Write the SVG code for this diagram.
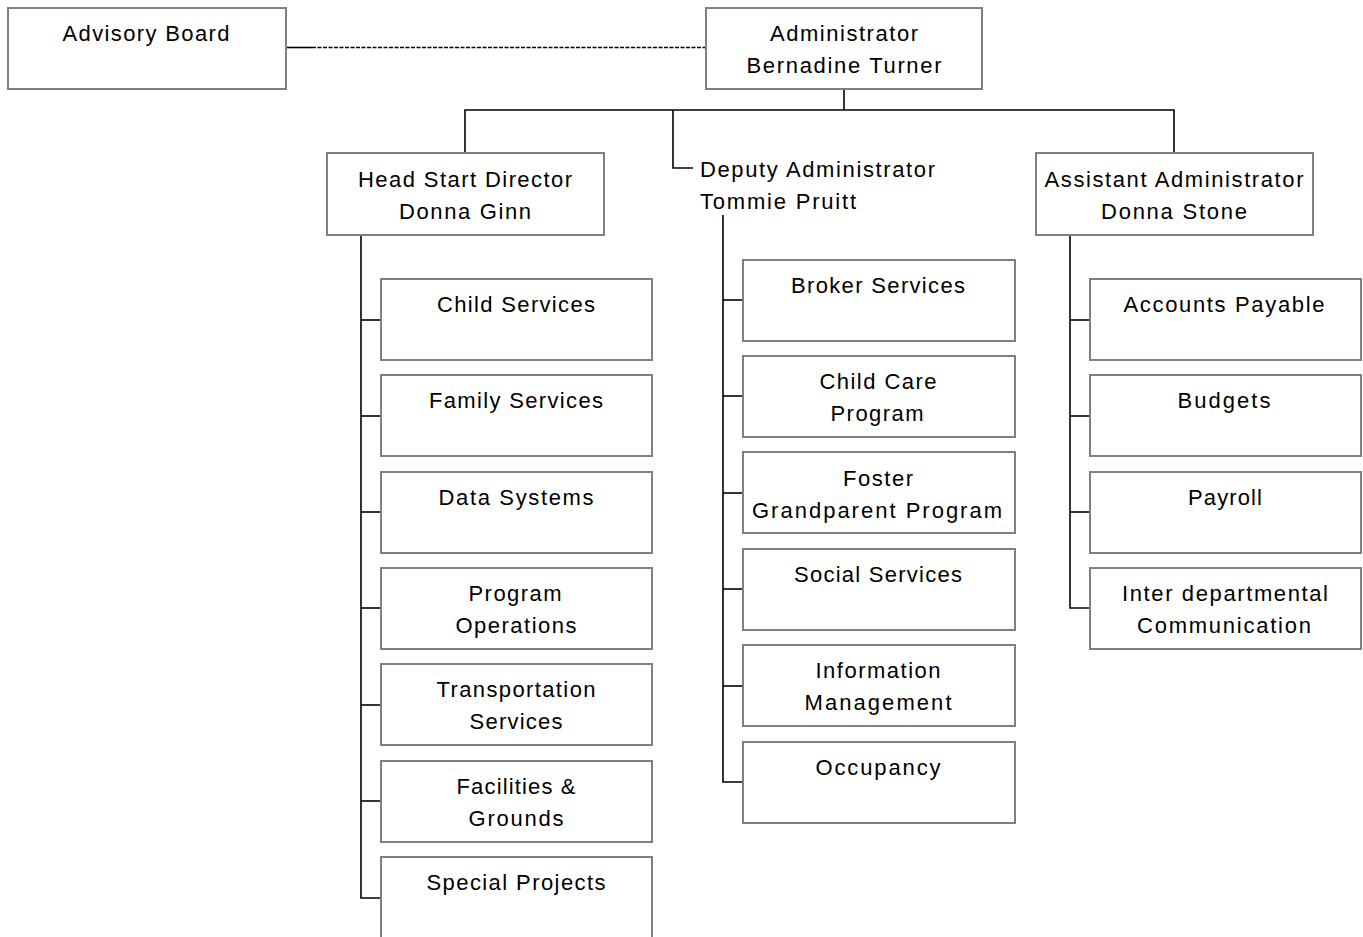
<svg xmlns="http://www.w3.org/2000/svg" width="1363" height="937" viewBox="0 0 1363 937">
<style>
.box{fill:#fff;stroke:#808080;stroke-width:2}
.ln{fill:none;stroke:#000;stroke-width:1.6}
.dash{fill:none;stroke:#000;stroke-width:1.3;stroke-dasharray:4 1.5}
text{font-family:"Liberation Sans Narrow","Liberation Sans",Arial,sans-serif;font-size:22px;fill:#000;text-anchor:middle}
.l{text-anchor:start}
</style>
<rect width="1363" height="937" fill="#fff"/>
<g id="connectors">
<line class="ln" x1="286" y1="47.5" x2="312" y2="47.5"/>
<line class="dash" x1="312" y1="47.5" x2="706" y2="47.5"/>
<polyline class="ln" points="844,89 844,110"/>
<polyline class="ln" points="465,153 465,110 1174,110 1174,153"/>
<polyline class="ln" points="673,110 673,168 693,168"/>
<polyline class="ln" points="361,235 361,898 381,898"/>
<line class="ln" x1="361" y1="320" x2="381" y2="320"/>
<line class="ln" x1="361" y1="416" x2="381" y2="416"/>
<line class="ln" x1="361" y1="512" x2="381" y2="512"/>
<line class="ln" x1="361" y1="608" x2="381" y2="608"/>
<line class="ln" x1="361" y1="705" x2="381" y2="705"/>
<line class="ln" x1="361" y1="801" x2="381" y2="801"/>
<polyline class="ln" points="723,215 723,782 743,782"/>
<line class="ln" x1="723" y1="300" x2="743" y2="300"/>
<line class="ln" x1="723" y1="396" x2="743" y2="396"/>
<line class="ln" x1="723" y1="493" x2="743" y2="493"/>
<line class="ln" x1="723" y1="589" x2="743" y2="589"/>
<line class="ln" x1="723" y1="686" x2="743" y2="686"/>
<polyline class="ln" points="1070,235 1070,608 1090,608"/>
<line class="ln" x1="1070" y1="320" x2="1090" y2="320"/>
<line class="ln" x1="1070" y1="416" x2="1090" y2="416"/>
<line class="ln" x1="1070" y1="512" x2="1090" y2="512"/>
</g>
<g id="advisory"><rect class="box" x="8" y="8" width="278" height="81"/><text x="146" y="41" textLength="167" lengthAdjust="spacing">Advisory Board</text></g>
<g id="administrator"><rect class="box" x="706" y="8" width="276" height="81"/><text x="844" y="41" textLength="148" lengthAdjust="spacing">Administrator</text><text x="844" y="73" textLength="195" lengthAdjust="spacing">Bernadine Turner</text></g>
<g id="headstart"><rect class="box" x="327" y="153" width="277" height="82"/><text x="465" y="187" textLength="214" lengthAdjust="spacing">Head Start Director</text><text x="465" y="219" textLength="132" lengthAdjust="spacing">Donna Ginn</text></g>
<g id="deputy"><text class="l" x="700" y="177" textLength="235" lengthAdjust="spacing">Deputy Administrator</text><text class="l" x="700" y="209" textLength="156" lengthAdjust="spacing">Tommie Pruitt</text></g>
<g id="assistant"><rect class="box" x="1036" y="153" width="277" height="82"/><text x="1174" y="187" textLength="259" lengthAdjust="spacing">Assistant Administrator</text><text x="1174" y="219" textLength="146" lengthAdjust="spacing">Donna Stone</text></g>
<g id="child-services"><rect class="box" x="381" y="279" width="271" height="81"/><text x="516" y="312" textLength="158" lengthAdjust="spacing">Child Services</text></g>
<g id="family-services"><rect class="box" x="381" y="375" width="271" height="81"/><text x="516" y="408" textLength="174" lengthAdjust="spacing">Family Services</text></g>
<g id="data-systems"><rect class="box" x="381" y="472" width="271" height="81"/><text x="516" y="505" textLength="155" lengthAdjust="spacing">Data Systems</text></g>
<g id="program-operations"><rect class="box" x="381" y="568" width="271" height="81"/><text x="515" y="601" textLength="93" lengthAdjust="spacing">Program</text><text x="516" y="633" textLength="121" lengthAdjust="spacing">Operations</text></g>
<g id="transportation"><rect class="box" x="381" y="664" width="271" height="81"/><text x="516" y="697" textLength="159" lengthAdjust="spacing">Transportation</text><text x="516" y="729" textLength="93" lengthAdjust="spacing">Services</text></g>
<g id="facilities"><rect class="box" x="381" y="761" width="271" height="81"/><text x="516" y="794" textLength="119" lengthAdjust="spacing">Facilities &amp;</text><text x="516" y="826" textLength="95" lengthAdjust="spacing">Grounds</text></g>
<g id="special-projects"><rect class="box" x="381" y="857" width="271" height="90"/><text x="516" y="890" textLength="179" lengthAdjust="spacing">Special Projects</text></g>
<g id="broker-services"><rect class="box" x="743" y="260" width="272" height="81"/><text x="878" y="293" textLength="174" lengthAdjust="spacing">Broker Services</text></g>
<g id="child-care"><rect class="box" x="743" y="356" width="272" height="81"/><text x="878" y="389" textLength="117" lengthAdjust="spacing">Child Care</text><text x="877" y="421" textLength="93" lengthAdjust="spacing">Program</text></g>
<g id="foster"><rect class="box" x="743" y="452" width="272" height="81"/><text x="878" y="486" textLength="70" lengthAdjust="spacing">Foster</text><text x="877" y="518" textLength="250" lengthAdjust="spacing">Grandparent  Program</text></g>
<g id="social-services"><rect class="box" x="743" y="549" width="272" height="81"/><text x="878" y="582" textLength="168" lengthAdjust="spacing">Social Services</text></g>
<g id="information-management"><rect class="box" x="743" y="645" width="272" height="81"/><text x="878" y="678" textLength="125" lengthAdjust="spacing">Information</text><text x="878" y="710" textLength="147" lengthAdjust="spacing">Management</text></g>
<g id="occupancy"><rect class="box" x="743" y="742" width="272" height="81"/><text x="878" y="775" textLength="125" lengthAdjust="spacing">Occupancy</text></g>
<g id="accounts-payable"><rect class="box" x="1090" y="279" width="271" height="81"/><text x="1224" y="312" textLength="201" lengthAdjust="spacing">Accounts Payable</text></g>
<g id="budgets"><rect class="box" x="1090" y="375" width="271" height="81"/><text x="1224" y="408" textLength="93" lengthAdjust="spacing">Budgets</text></g>
<g id="payroll"><rect class="box" x="1090" y="472" width="271" height="81"/><text x="1225" y="505" textLength="74" lengthAdjust="spacing">Payroll</text></g>
<g id="interdepartmental"><rect class="box" x="1090" y="568" width="271" height="81"/><text x="1225" y="601" textLength="206" lengthAdjust="spacing">Inter departmental</text><text x="1224" y="633" textLength="174" lengthAdjust="spacing">Communication</text></g>
</svg>
